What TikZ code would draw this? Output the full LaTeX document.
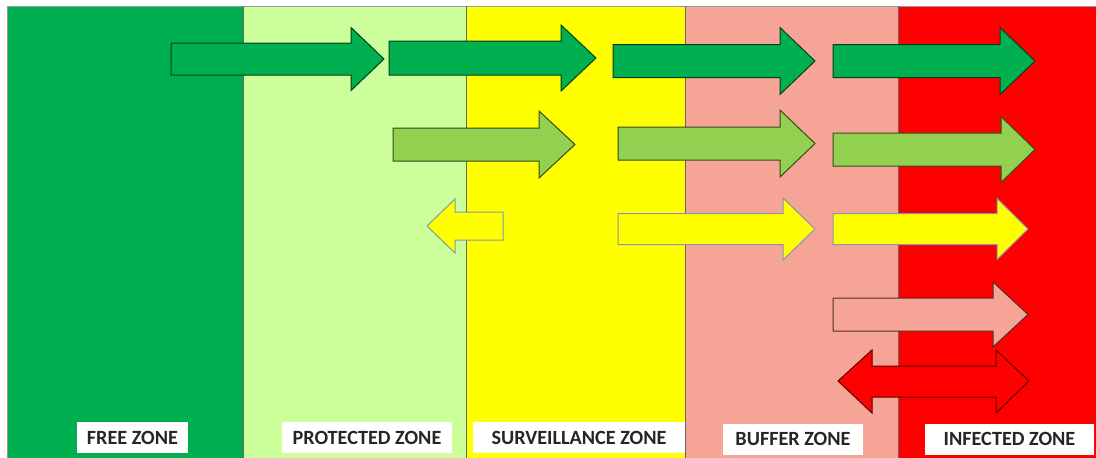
\documentclass[tikz,border=0pt]{standalone}
\usepackage{fontspec}
\setmainfont{Carlito}
\definecolor{freegreen}{HTML}{00B050}
\definecolor{protgreen}{HTML}{CCFF99}
\definecolor{survyellow}{HTML}{FFFF00}
\definecolor{buffersalmon}{HTML}{F5A496}
\definecolor{infectred}{HTML}{FF0000}
\definecolor{midgreen}{HTML}{92D050}
\definecolor{yellowedge}{HTML}{8497B0}

% block arrow: [style] tail x, head base x, tip x, centre y, half shaft, half head
\newcommand\zonearrow[7][]{%
  \draw[#1] (#2,#5-#6) -- (#3,#5-#6) -- (#3,#5-#7) -- (#4,#5) -- (#3,#5+#7) -- (#3,#5+#6) -- (#2,#5+#6) -- cycle;}

\begin{document}
\begin{tikzpicture}[x=1pt, y=-1pt,
    zoneline/.style={draw=black!60, line width=1pt},
    zonelabel/.style={fill=white, inner sep=0pt, minimum height=31pt, text=black!85, font=\fontsize{20.2}{23}\selectfont\bfseries},
    arrowdark/.style={fill=freegreen, draw=freegreen!35!black, line width=1pt},
    arrowmid/.style={fill=midgreen, draw=midgreen!35!black, line width=1pt},
    arrowyellow/.style={fill=survyellow, draw=yellowedge, line width=1pt},
    arrowsalmon/.style={fill=buffersalmon, draw=buffersalmon!30!black, line width=1pt},
    arrowred/.style={fill=infectred, draw=infectred!35!black, line width=1pt}]
		\useasboundingbox (0,0) rectangle (1096,458);
		\fill[white] (0,0) rectangle (1096,458);

		\fill[freegreen] (7,6) rectangle (243,458);
		\fill[protgreen] (243,6) rectangle (466,458);
		\fill[survyellow] (466,6) rectangle (685,458);
		\fill[buffersalmon] (685,6) rectangle (898,458);
		\fill[infectred] (898,6) rectangle (1096,458);
		\draw[zoneline, draw=black!40] (7,458) -- (7,6) -- (1096,6);
		\draw[zoneline] (243,6) -- (243,458);
		\draw[zoneline] (466,6) -- (466,458);
		\draw[zoneline] (685,6) -- (685,458);
		\draw[zoneline] (898,6) -- (898,458);

		\zonearrow[arrowdark]{171}{351}{384}{59}{16}{31.5}
		\zonearrow[arrowdark]{389}{561}{596}{58}{17}{33}
		\zonearrow[arrowdark]{613}{780}{815}{61}{16.5}{33.5}
		\zonearrow[arrowdark]{833}{1000}{1035}{61}{16.5}{33.5}

		\zonearrow[arrowmid]{393}{539}{575}{144.5}{16.5}{33.5}
		\zonearrow[arrowmid]{618}{780}{815}{143.5}{16.5}{33.5}
		\zonearrow[arrowmid]{833}{1001}{1035}{149.5}{16.5}{33}

		\zonearrow[arrowyellow]{503}{455}{427}{226}{14}{27}
		\zonearrow[arrowyellow]{618}{783}{815}{229}{15.5}{31}
		\zonearrow[arrowyellow]{833}{997}{1028}{229}{15.5}{30.5}

		\zonearrow[arrowsalmon]{833}{993}{1028}{314.5}{16.5}{32.5}

		\draw[arrowred] (838,381) -- (872,350) -- (872,366) -- (996,366) -- (996,350) -- (1029,381)
			-- (996,413) -- (996,397) -- (872,397) -- (872,413) -- cycle;

		\node(free) at (132.5,437.5) [zonelabel, minimum width=111pt] {FREE ZONE};
		\node(protected) at (367,437.5) [zonelabel, minimum width=170pt] {PROTECTED ZONE};
		\node(surveillance) at (579,437.5) [zonelabel, minimum width=212pt] {SURVEILLANCE ZONE};
		\node(buffer) at (793,439) [zonelabel, minimum width=140pt] {BUFFER ZONE};
		\node(infected) at (1009.5,439) [zonelabel, minimum width=169pt] {INFECTED ZONE};
	\end{tikzpicture}
\end{document}
